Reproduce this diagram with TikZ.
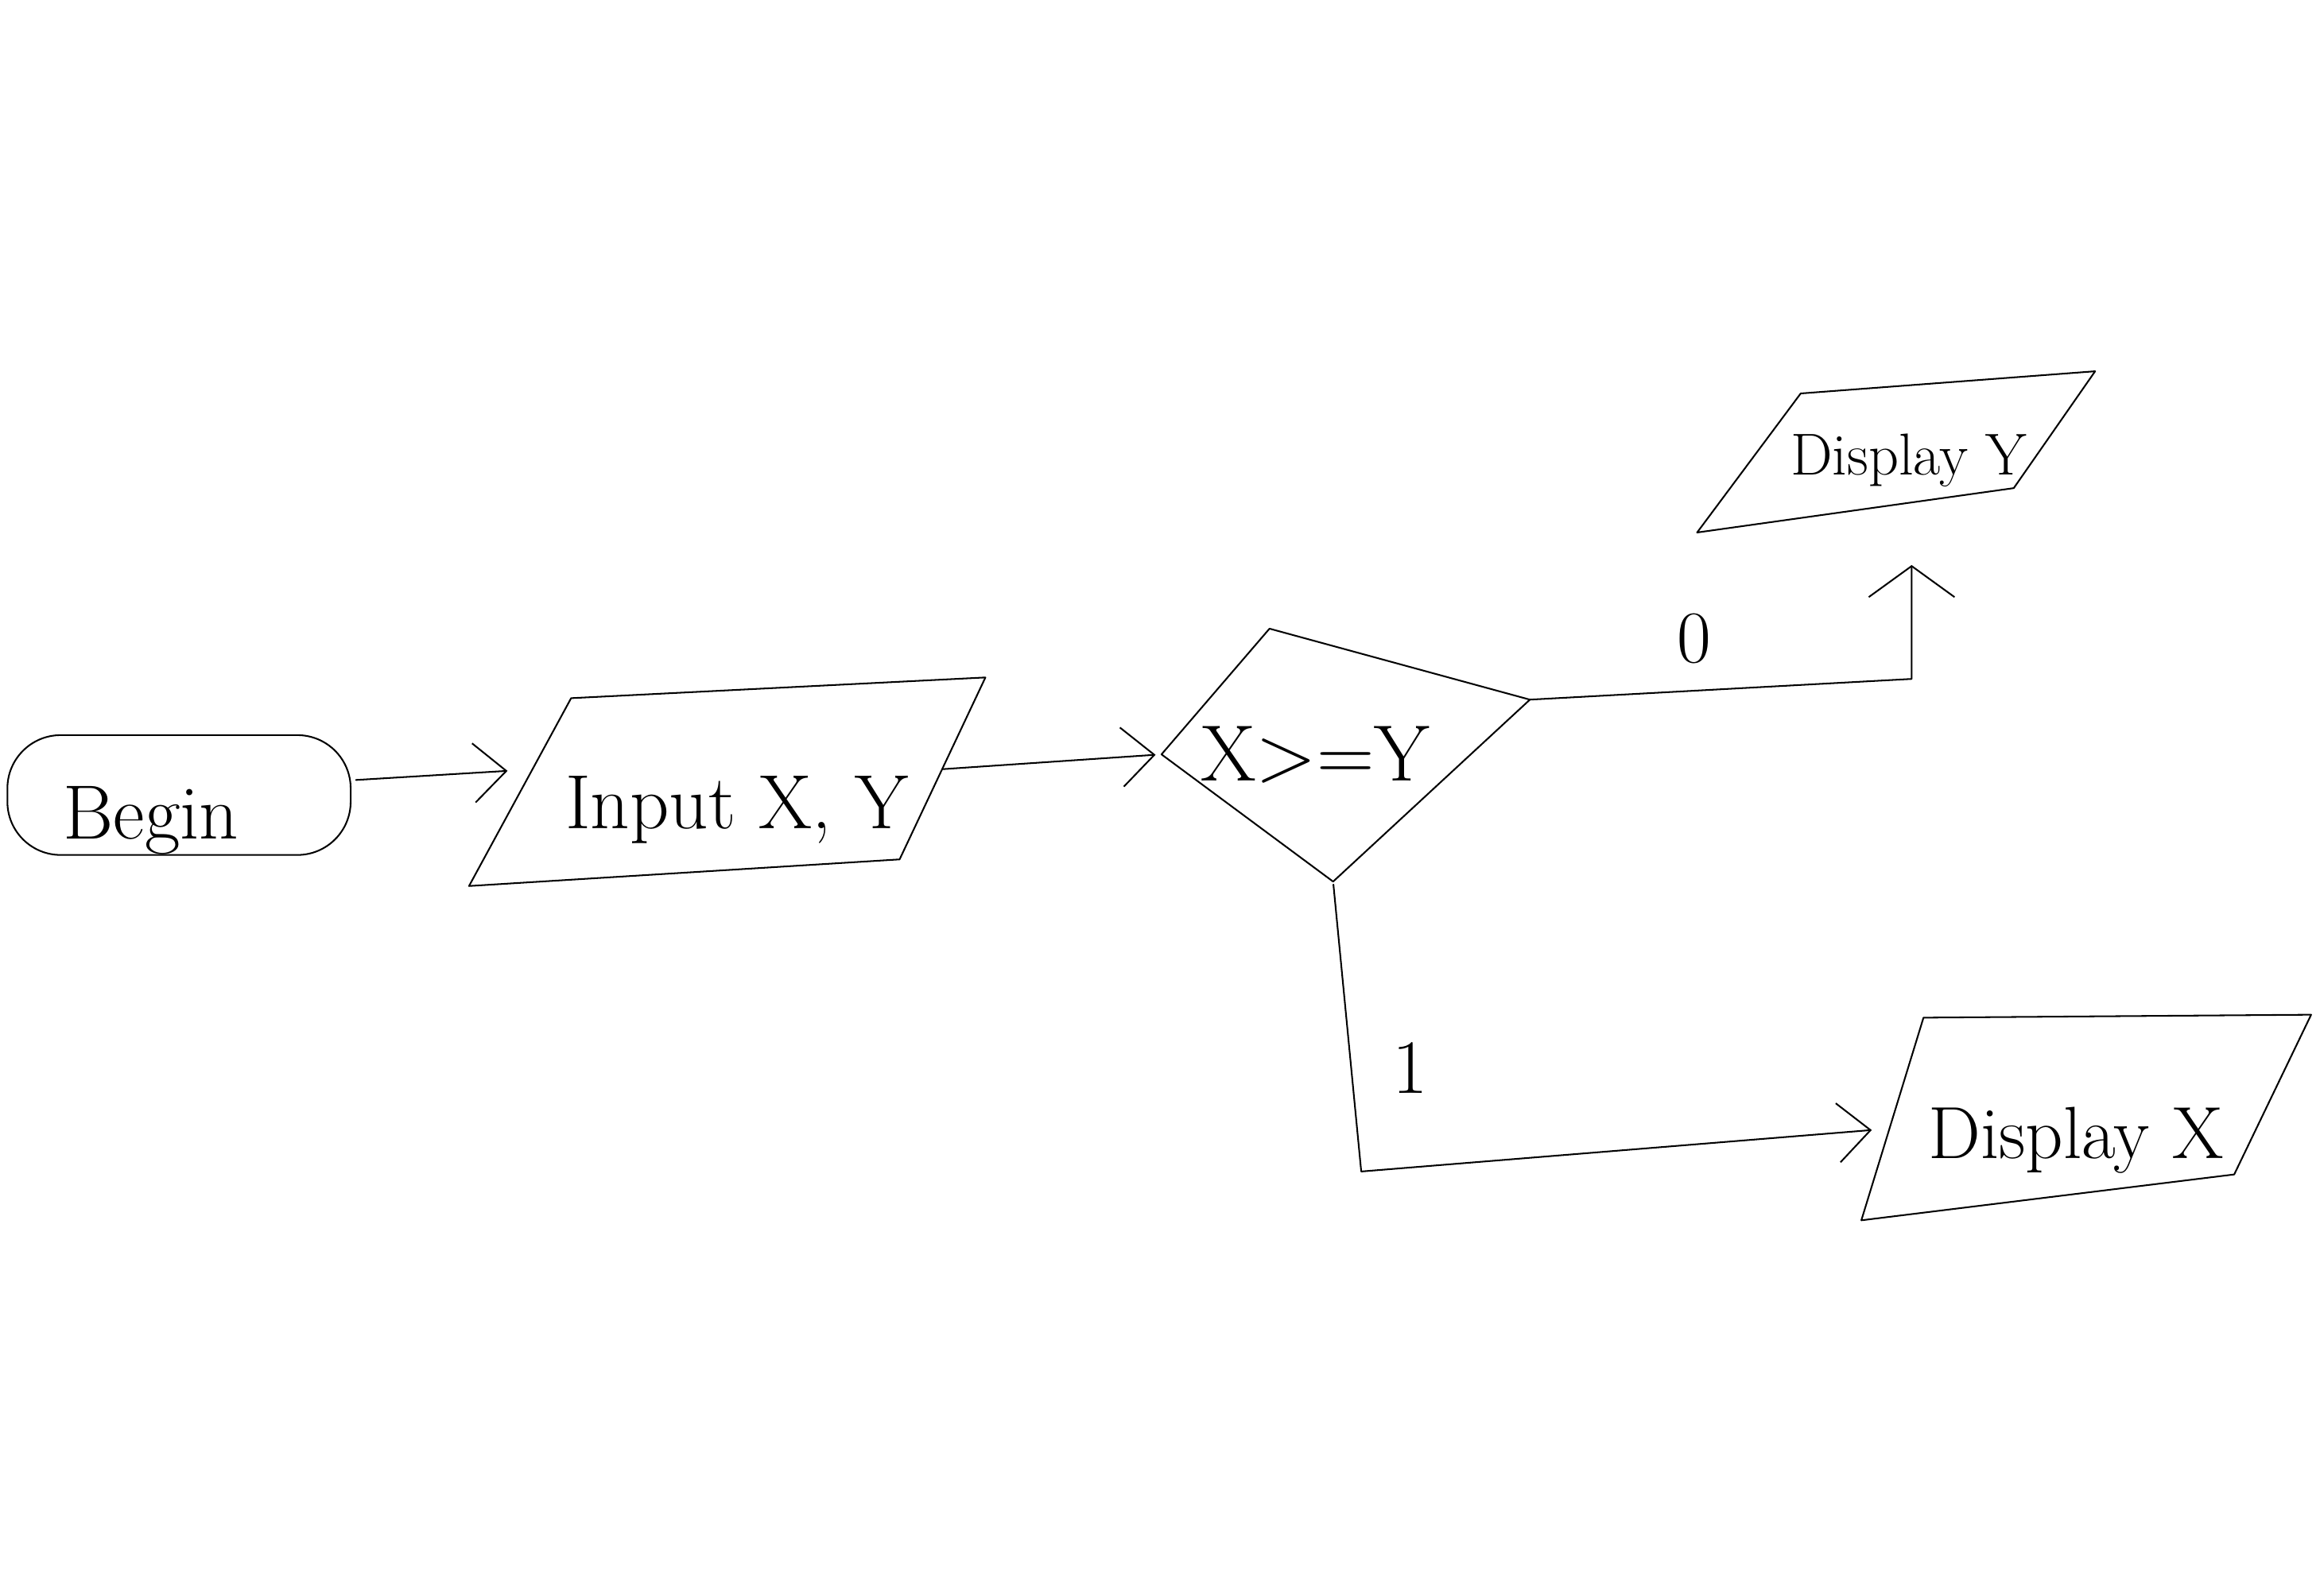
\documentclass[tikz,border=0pt]{standalone}
\usetikzlibrary{arrows.meta}
\begin{document}
\begin{tikzpicture}[x=1pt,y=-1pt,
  stroke/.style={line width=1.1pt, line join=round, line cap=round},
  outline/.style={stroke, draw=black},
  arr/.style={stroke, -{Straight Barb[length=22pt,width=40pt,line width=1.1pt]}},
  arrwide/.style={stroke, -{Straight Barb[length=21pt,width=58pt,line width=1.1pt]}},
  lbl/.style={inner sep=0pt, anchor=base},
  big/.style={lbl, font=\fontsize{52}{60}\selectfont},
]
\useasboundingbox (0,0) rectangle (1568,1079);
\fill[white] (0,0) rectangle (1568,1079);

% Begin terminal
\node[outline, rounded corners=36pt, minimum width=232pt, minimum height=81pt, inner sep=0pt] (begin) at (121,537.5) {};
\node[big] (tbegin) at (102,567) {Begin};

% Input X, Y
\coordinate (inBL) at (317,599);
\coordinate (inTL) at (386,472);
\coordinate (inTR) at (666,458);
\coordinate (inBR) at (608,581);
\draw[outline] (inBL) -- (inTL) -- (inTR) -- (inBR) -- cycle;
\node[big] (tin) at (498,560) {Input X, Y};
\coordinate (inW) at (362,520);
\coordinate (inE) at (637,520);

% Decision
\coordinate (dW) at (785,510);
\coordinate (dN) at (858,425);
\coordinate (dE) at (1034,473);
\coordinate (dS) at (901,596);
\draw[outline] (dW) -- (dN) -- (dE) -- (dS) -- cycle;
\node[lbl, font=\fontsize{54}{60}\selectfont] (tdia) at (889,528) {X>=Y};

% Display Y
\coordinate (yBL) at (1147,360);
\coordinate (yTL) at (1217,266);
\coordinate (yTR) at (1416,251);
\coordinate (yBR) at (1361,330);
\draw[outline] (yBL) -- (yTL) -- (yTR) -- (yBR) -- cycle;
\node[lbl, font=\fontsize{40}{46}\selectfont] (tdy) at (1290,321) {Display Y};
\coordinate (dyS) at (1292,340);

% Display X
\coordinate (xBL) at (1258,825);
\coordinate (xTL) at (1300,688);
\coordinate (xTR) at (1562,686);
\coordinate (xBR) at (1510,794);
\draw[outline] (xBL) -- (xTL) -- (xTR) -- (xBR) -- cycle;
\node[lbl, font=\fontsize{50}{56}\selectfont] (tdx) at (1403,783) {Display X};
\coordinate (dxW) at (1277,763);

% connectors
\draw[arr, shorten <=3pt, shorten >=19pt] ([yshift=10pt]begin.east) -- (inW);
\draw[arr, shorten >=4pt] (inE) -- (dW);
\coordinate (c0) at (1292,459);
\draw[arrwide, shorten >=42pt] (dE) -- (c0) -- (dyS);
\coordinate (c1) at (920,792);
\draw[arr, shorten <=2pt, shorten >=12pt] (dS) -- (c1) -- (dxW);

% branch labels
\node[lbl, font=\fontsize{50}{56}\selectfont] (l0) at (1145,448) {0};
\node[lbl, font=\fontsize{52}{58}\selectfont] (l1) at (953,739) {1};
\end{tikzpicture}
\end{document}
